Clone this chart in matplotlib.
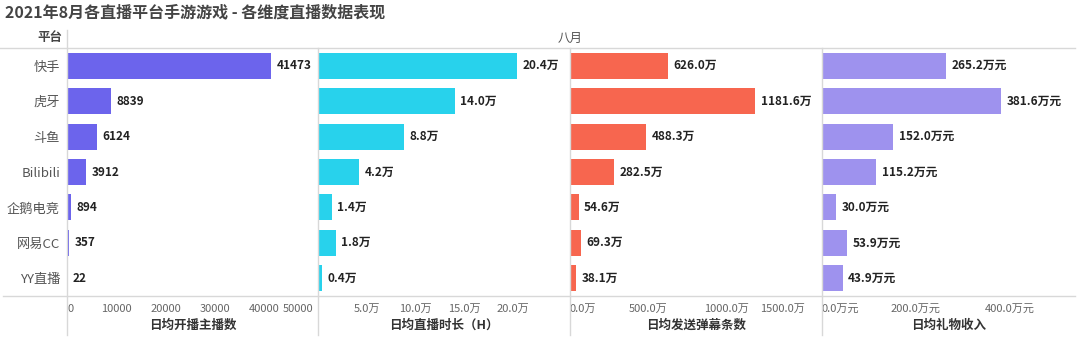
import matplotlib
matplotlib.use("Agg")
import matplotlib.pyplot as plt
from matplotlib.lines import Line2D

plt.rcParams['font.family'] = ['Noto Sans CJK SC', 'DejaVu Sans']

# ----- data -----
platforms = ["快手", "虎牙", "斗鱼", "Bilibili", "企鹅电竞", "网易CC", "YY直播"]
streamers = [41473, 8839, 6124, 3912, 894, 357, 22]          # 日均开播主播数
hours = [20.4, 14.0, 8.8, 4.2, 1.4, 1.8, 0.4]                 # 万
danmaku = [626.0, 1181.6, 488.3, 282.5, 54.6, 69.3, 38.1]     # 万
gifts = [265.2, 381.6, 152.0, 115.2, 30.0, 53.9, 43.9]        # 万元

titles = ["日均开播主播数", "日均直播时长（H）", "日均发送弹幕条数", "日均礼物收入"]
colors = ["#6c64ec", "#28d2ec", "#f7664f", "#9e92ee"]

W, H = 1080, 353
fig = plt.figure(figsize=(W / 100, H / 100), dpi=100)

def fx(px):
    return px / W

def fy(py):
    return 1 - py / H

top, bottom = 48, 296
edges = [67, 318, 570, 822, 1075]

panels = [
    (streamers, 51000, [0, 10000, 20000, 30000, 40000, 50000],
     lambda v: f"{v:.0f}", lambda v: f"{v:.0f}"),
    (hours, 25.8, [5, 10, 15, 20],
     lambda v: f"{v:.1f}万", lambda v: f"{v:.1f}万"),
    (danmaku, 1610, [0, 500, 1000, 1500],
     lambda v: f"{v:.1f}万", lambda v: f"{v:.1f}万"),
    (gifts, 540, [0, 200, 400],
     lambda v: f"{v:.1f}万元", lambda v: f"{v:.1f}万元"),
]

for i, (vals, xmax, ticks, tickfmt, labfmt) in enumerate(panels):
    ax = fig.add_axes([fx(edges[i]), fy(bottom), fx(edges[i + 1] - edges[i]), (bottom - top) / H])
    ax.barh(range(len(platforms)), vals, height=0.73, color=colors[i])
    ax.set_xlim(0, xmax)
    ax.set_ylim(len(platforms) - 0.5, -0.5)
    for s in ax.spines.values():
        s.set_visible(False)
    for j, v in enumerate(vals):
        ax.annotate(labfmt(v), (v, j), xytext=(4, 0), textcoords="offset points",
                    va="center", ha="left", fontsize=8.5, fontweight="bold", color="#222222")
    ax.set_xticks(ticks)
    ax.set_xticklabels([tickfmt(t) for t in ticks], fontsize=8, color="#666666")
    lbls = ax.get_xticklabels()
    if ticks[0] == 0:
        lbls[0].set_ha("left")
    if i in (0, 2):
        lbls[-1].set_ha("right")
    ax.tick_params(axis="x", length=0, pad=6)
    ax.set_xlabel(titles[i], fontsize=9, fontweight="bold", color="#333333", labelpad=3)
    if i == 0:
        ax.set_yticks(range(len(platforms)))
        ax.set_yticklabels(platforms, fontsize=9.5, color="#555555")
        ax.tick_params(axis="y", length=0, pad=5)
    else:
        ax.set_yticks([])

# grid lines of the table layout
line_c = "#d8d8d8"
fig.add_artist(Line2D([fx(0), fx(1075)], [fy(top), fy(top)], color=line_c, lw=1))
fig.add_artist(Line2D([fx(3), fx(1075)], [fy(bottom), fy(bottom)], color=line_c, lw=1))
fig.add_artist(Line2D([fx(67), fx(67)], [fy(30), fy(335)], color=line_c, lw=1))
for e in edges[1:4]:
    fig.add_artist(Line2D([fx(e), fx(e)], [fy(top), fy(335)], color=line_c, lw=1))

# header
fig.text(fx(62), fy(38), "平台", ha="right", va="center", fontsize=9, fontweight="bold", color="#444444")
fig.text(fx(570), fy(38), "八月", ha="center", va="center", fontsize=9, color="#555555")
fig.text(fx(5), fy(12), "2021年8月各直播平台手游游戏 - 各维度直播数据表现",
         ha="left", va="center", fontsize=11.5, fontweight="bold", color="#444444")

fig.savefig("out.png", dpi=100)
